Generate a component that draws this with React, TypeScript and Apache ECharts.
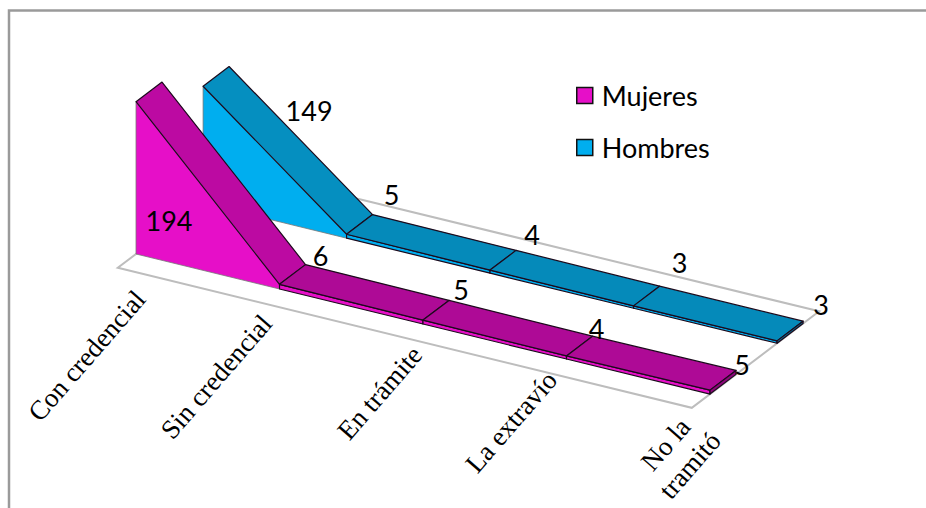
import React, { useEffect, useRef } from "react";
import * as echarts from "echarts";

const categories = ["Con credencial", "Sin credencial", "En trámite", "La extravío", "No la\ntramitó"];
const mujeres = [194, 6, 5, 4, 5];
const hombres = [149, 5, 4, 3, 3];

// Oblique projection of the flat axes onto the sheared 3D floor.
const SHEAR = 0.244;
const DEPTH_X = 26;
const DEPTH_Y = -19.7;
const ORIGIN_X = 136;
const MUJERES_DEPTH = 0;
const HOMBRES_DEPTH = 2.58;
const FLOOR_FRONT = -0.7;
const FLOOR_BACK = 4.2;

// Nudges of the value labels from the rear ridge corner of each category.
const mujeresLabelNudge = [[7, 138], [15, -9], [12, -11], [4, -8], [6, -6]];
const hombresLabelNudge = [[80, 44], [19, -20], [16, -16], [20, -24], [18, -17]];
// Centre of each rotated category label, relative to its floor tick.
const categoryNudge = [[-31, 88], [-45, 74], [-25, 55], [-37, 49], [-14, 47]];

const project = (api: any, i: number, v: number, depth: number) => {
  const [x, y] = api.coord([i, v]);
  return [x + depth * DEPTH_X, y + SHEAR * (x - ORIGIN_X) + depth * DEPTH_Y];
};

const ridgeSeries = (
  name: string,
  values: number[],
  depth: number,
  front: string,
  slope: string,
  top: string,
  cap: string,
  nudge: number[][],
) => ({
  type: "custom",
  name,
  coordinateSystem: "cartesian2d",
  itemStyle: { color: front },
  data: values.map((v, i) => [i, v]),
  encode: { x: 0, y: 1 },
  silent: true,
  renderItem: (_p: any, api: any) => {
    const i = api.value(0);
    const v = api.value(1);
    const line = { stroke: "#1c0a1c", lineWidth: 1.2, lineJoin: "round" };
    const a0 = project(api, i, 0, depth);
    const a1 = project(api, i, v, depth);
    const b1 = project(api, i, v, depth + 1);
    const children: any[] = [];
    if (i < values.length - 1) {
      const n = values[i + 1];
      const c0 = project(api, i + 1, 0, depth);
      const c1 = project(api, i + 1, n, depth);
      const d1 = project(api, i + 1, n, depth + 1);
      children.push({
        type: "polygon",
        shape: { points: [a0, a1, c1, c0] },
        style: { fill: front, ...line, stroke: i === 0 ? "#777" : line.stroke, lineWidth: i === 0 ? 0.8 : 1.2 },
      });
      children.push({
        type: "polygon",
        shape: { points: [a1, b1, d1, c1] },
        style: { fill: i === 0 ? slope : top, ...line },
      });
    } else {
      const b0 = project(api, i, 0, depth + 1);
      children.push({
        type: "polygon",
        shape: { points: [a0, a1, b1, b0] },
        style: { fill: cap, ...line },
      });
    }
    children.push({
      type: "text",
      z2: 20,
      x: b1[0] + nudge[i][0],
      y: b1[1] + nudge[i][1],
      style: {
        text: String(v),
        fill: "#000",
        font: "27px Lato",
        align: "center",
        verticalAlign: "middle",
      },
    });
    return { type: "group", children };
  },
});

const floorSeries = {
  type: "custom",
  name: "floor",
  coordinateSystem: "cartesian2d",
  silent: true,
  data: categories.map((_c, i) => [i, 0]),
  encode: { x: 0, y: 1 },
  renderItem: (_p: any, api: any) => {
    const i = api.value(0);
    const children: any[] = [];
    if (i === 0) {
      const last = categories.length - 1;
      children.push({
        type: "polygon",
        shape: {
          points: [
            project(api, 0, 0, FLOOR_FRONT),
            project(api, last, 0, FLOOR_FRONT),
            project(api, last, 0, FLOOR_BACK),
            project(api, 0, 0, FLOOR_BACK),
          ],
        },
        style: { fill: "#fff", stroke: "#bdbdbd", lineWidth: 2 },
      });
    }
    const tick = project(api, i, 0, FLOOR_FRONT);
    children.push({
      type: "text",
      x: tick[0] + categoryNudge[i][0],
      y: tick[1] + categoryNudge[i][1],
      rotation: (49 * Math.PI) / 180,
      z2: 20,
      style: {
        text: categories[i],
        fill: "#000",
        font: "27px 'Liberation Serif'",
        align: "center",
        verticalAlign: "middle",
        lineHeight: 32,
      },
    });
    return { type: "group", children };
  },
};

export default function App() {
  const ref = useRef<HTMLDivElement>(null);
  useEffect(() => {
    const chart = echarts.init(ref.current!, undefined, { renderer: "svg" });
    chart.setOption({
      animation: false,
      backgroundColor: "#fff",
      grid: { left: 136, width: 574, top: 97, height: 157 },
      xAxis: { type: "value", min: 0, max: 4, show: false },
      yAxis: { type: "value", min: 0, max: 200, show: false },
      legend: {
        data: ["Mujeres", "Hombres"],
        orient: "vertical",
        left: 576,
        top: 82,
        padding: 0,
        itemGap: 25,
        itemWidth: 16,
        itemHeight: 16,
        icon: "rect",
        itemStyle: { borderColor: "#111", borderWidth: 1.5 },
        textStyle: { fontFamily: "Lato", fontSize: 27, color: "#000", padding: [0, 0, 3, 4] },
        selectedMode: false,
      },
      graphic: [
        {
          type: "rect",
          z: -10,
          shape: { x: 9, y: 10.5, width: 1000, height: 1000 },
          style: { fill: "none", stroke: "#9a9a9a", lineWidth: 2.5 },
        },
      ],
      series: [
        floorSeries,
        ridgeSeries("Hombres", hombres, HOMBRES_DEPTH, "#00AEEF", "#058FC0", "#058ABA", "#057aa3", hombresLabelNudge),
        ridgeSeries("Mujeres", mujeres, MUJERES_DEPTH, "#E60FC8", "#BC0AA2", "#AE0A96", "#8d077b", mujeresLabelNudge),
      ],
    });
    return () => chart.dispose();
  }, []);
  return <div ref={ref} style={{ position: "absolute", left: 0, top: 0, width: 926, height: 508 }} />;
}
